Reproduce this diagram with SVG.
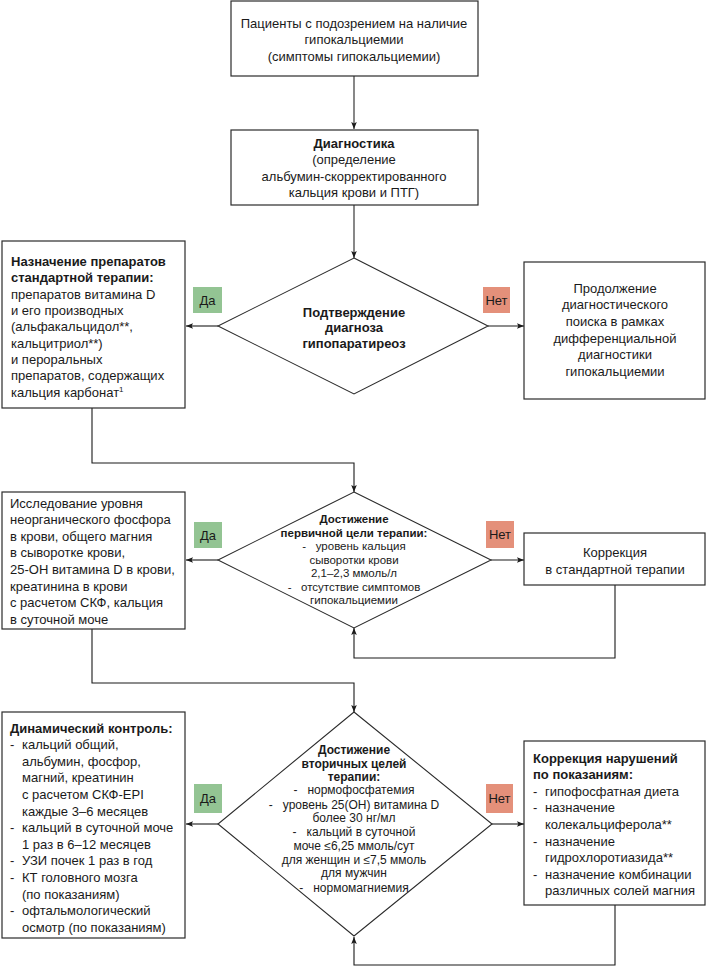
<svg xmlns="http://www.w3.org/2000/svg" width="708" height="967" viewBox="0 0 708 967">
<style>
.box{fill:#fff;stroke:#2b2b2b;stroke-width:1.2}
.dia{fill:#fff;stroke:#2b2b2b;stroke-width:1.1}
.t{font-family:"Liberation Sans",Arial,sans-serif;font-size:13px;fill:#1a1a1a}
.b{font-weight:bold}
.c{text-anchor:middle}
.d{font-family:"Liberation Sans",Arial,sans-serif;font-size:12px;fill:#1a1a1a;text-anchor:middle}
.s{font-size:11.5px}
.con{fill:none;stroke:#1a1a1a;stroke-width:1.1}
.gray{stroke:#6a6a6a;stroke-width:1.6}
.yes{fill:#93c493}
.no{fill:#e4907a}
</style>
<defs>
<marker id="ah" viewBox="0 0 10 10" refX="10" refY="5" markerWidth="7" markerHeight="7" markerUnits="userSpaceOnUse" orient="auto">
<path d="M0,1 L10,5 L0,9 L2,5 Z" fill="#1a1a1a"/>
</marker>
</defs>

<g id="connectors">
<line class="con gray" x1="354" y1="76" x2="354" y2="129" marker-end="url(#ah)"/>
<line class="con gray" x1="354" y1="205" x2="354" y2="258" marker-end="url(#ah)"/>
<line class="con" x1="218" y1="326" x2="186" y2="326" marker-end="url(#ah)"/>
<line class="con" x1="488" y1="326" x2="524" y2="326" marker-end="url(#ah)"/>
<polyline class="con" points="92,408 92,463 354,463 354,492" marker-end="url(#ah)"/>
<line class="con" x1="218" y1="560" x2="186" y2="560" marker-end="url(#ah)"/>
<line class="con" x1="491" y1="560" x2="524" y2="560" marker-end="url(#ah)"/>
<polyline class="con" points="615,585 615,658 354,658 354,628" marker-end="url(#ah)"/>
<polyline class="con" points="92,629 92,683 354,683 354,712" marker-end="url(#ah)"/>
<line class="con" x1="218" y1="824" x2="186" y2="824" marker-end="url(#ah)"/>
<line class="con" x1="492" y1="824" x2="524" y2="824" marker-end="url(#ah)"/>
<polyline class="con" points="615,905 615,965 354,965 354,937" marker-end="url(#ah)"/>
</g>

<g id="labels">
<rect class="yes" x="193" y="287" width="29" height="26"/>
<text class="t c" x="207.5" y="305">Да</text>
<rect class="no" x="483" y="287" width="27" height="26"/>
<text class="t c" x="496.5" y="305">Нет</text>
<rect class="yes" x="194" y="522" width="28" height="26"/>
<text class="t c" x="208" y="540">Да</text>
<rect class="no" x="486" y="521" width="28" height="27"/>
<text class="t c" x="500" y="539">Нет</text>
<rect class="yes" x="194" y="784" width="28" height="29"/>
<text class="t c" x="208" y="803">Да</text>
<rect class="no" x="486" y="784" width="27" height="29"/>
<text class="t c" x="499.5" y="803">Нет</text>
</g>

<g id="start">
<rect class="box" x="231" y="1" width="247" height="75"/>
<text class="t c" x="354" y="27.5">Пациенты с подозрением на наличие</text>
<text class="t c" x="354" y="44">гипокальциемии</text>
<text class="t c" x="354" y="60.5">(симптомы гипокальциемии)</text>
</g>

<g id="diagnostics">
<rect class="box" x="231" y="130" width="247" height="75"/>
<text class="t c b" x="354" y="147.5">Диагностика</text>
<text class="t c" x="354" y="164">(определение</text>
<text class="t c" x="354" y="180.5">альбумин-скорректированного</text>
<text class="t c" x="354" y="197">кальция крови и ПТГ)</text>
</g>

<g id="decision1">
<polygon class="dia" points="354,258 488,326 354,394 218,326"/>
<text class="t c b" x="354" y="316.5">Подтверждение</text>
<text class="t c b" x="354" y="332">диагноза</text>
<text class="t c b" x="354" y="347.5">гипопаратиреоз</text>
</g>

<g id="standard-therapy">
<rect class="box" x="2" y="241" width="183" height="167"/>
<text class="t b" x="11" y="265.5">Назначение препаратов</text>
<text class="t b" x="11" y="282">стандартной терапии:</text>
<text class="t" x="11" y="298.5">препаратов витамина D</text>
<text class="t" x="11" y="315">и его производных</text>
<text class="t" x="11" y="331">(альфакальцидол**,</text>
<text class="t" x="11" y="347.5">кальцитриол**)</text>
<text class="t" x="11" y="364">и пероральных</text>
<text class="t" x="11" y="380">препаратов, содержащих</text>
<text class="t" x="11" y="396.5">кальция карбонат<tspan font-size="8" dy="-5">1</tspan></text>
</g>

<g id="continue-search">
<rect class="box" x="524" y="262" width="181" height="137"/>
<text class="t c" x="615" y="292.5">Продолжение</text>
<text class="t c" x="615" y="309.2">диагностического</text>
<text class="t c" x="615" y="325.9">поиска в рамках</text>
<text class="t c" x="615" y="342.6">дифференциальной</text>
<text class="t c" x="615" y="359.3">диагностики</text>
<text class="t c" x="615" y="376">гипокальциемии</text>
</g>

<g id="decision2">
<polygon class="dia" points="354,492 491,560 354,628 218,560"/>
<text class="d s b" x="354" y="523">Достижение</text>
<text class="d s b" x="354" y="536.5">первичной цели терапии:</text>
<text class="d s" x="354" y="550" xml:space="preserve">-   уровень кальция</text>
<text class="d s" x="354" y="563.5">сыворотки крови</text>
<text class="d s" x="354" y="577">2,1–2,3 ммоль/л</text>
<text class="d s" x="354" y="590.5" xml:space="preserve">-   отсутствие симптомов</text>
<text class="d s" x="354" y="604">гипокальциемии</text>
</g>

<g id="tests">
<rect class="box" x="2" y="492" width="183" height="137"/>
<text class="t" x="10" y="507.5">Исследование уровня</text>
<text class="t" x="10" y="524.1">неорганического фосфора</text>
<text class="t" x="10" y="540.7">в крови, общего магния</text>
<text class="t" x="10" y="557.3">в сыворотке крови,</text>
<text class="t" x="10" y="573.9">25-ОН витамина D в крови,</text>
<text class="t" x="10" y="590.5">креатинина в крови</text>
<text class="t" x="10" y="607.1">с расчетом СКФ, кальция</text>
<text class="t" x="10" y="623.7">в суточной моче</text>
</g>

<g id="correction-standard">
<rect class="box" x="524" y="533" width="181" height="52"/>
<text class="t c" x="615" y="556.5">Коррекция</text>
<text class="t c" x="615" y="573.5">в стандартной терапии</text>
</g>

<g id="decision3">
<polygon class="dia" points="354,712 492,824 354,936 218,824"/>
<text class="d b" x="354" y="754">Достижение</text>
<text class="d b" x="354" y="768">вторичных целей</text>
<text class="d b" x="354" y="781">терапии:</text>
<text class="d" x="354" y="794" xml:space="preserve">-   нормофосфатемия</text>
<text class="d" x="354" y="809" xml:space="preserve">-   уровень 25(OH) витамина D</text>
<text class="d" x="354" y="822">более 30 нг/мл</text>
<text class="d" x="354" y="836" xml:space="preserve">-   кальций в суточной</text>
<text class="d" x="354" y="850">моче ≤6,25 ммоль/сут</text>
<text class="d" x="354" y="864">для женщин и ≤7,5 ммоль</text>
<text class="d" x="354" y="877">для мужчин</text>
<text class="d" x="354" y="892" xml:space="preserve">-   нормомагниемия</text>
</g>

<g id="monitoring">
<rect class="box" x="2" y="712" width="183" height="226"/>
<text class="t b" x="10" y="732.5">Динамический контроль:</text>
<text class="t" x="10" y="749.1">-</text><text class="t" x="22" y="749.1">кальций общий,</text>
<text class="t" x="22" y="765.7">альбумин, фосфор,</text>
<text class="t" x="22" y="782.3">магний, креатинин</text>
<text class="t" x="22" y="798.9">с расчетом СКФ-EPI</text>
<text class="t" x="22" y="815.5">каждые 3–6 месяцев</text>
<text class="t" x="10" y="832.1">-</text><text class="t" x="22" y="832.1">кальций в суточной моче</text>
<text class="t" x="22" y="848.7">1 раз в 6–12 месяцев</text>
<text class="t" x="10" y="865.3">-</text><text class="t" x="22" y="865.3">УЗИ почек 1 раз в год</text>
<text class="t" x="10" y="881.9">-</text><text class="t" x="22" y="881.9">КТ головного мозга</text>
<text class="t" x="22" y="898.5">(по показаниям)</text>
<text class="t" x="10" y="915.1">-</text><text class="t" x="22" y="915.1">офтальмологический</text>
<text class="t" x="22" y="931.7">осмотр (по показаниям)</text>
</g>

<g id="correction-disorders">
<rect class="box" x="524" y="741" width="181" height="164"/>
<text class="t b" x="533" y="762.5">Коррекция нарушений</text>
<text class="t b" x="533" y="779.1">по показаниям:</text>
<text class="t" x="533" y="795.7">-</text><text class="t" x="545" y="795.7">гипофосфатная диета</text>
<text class="t" x="533" y="812.3">-</text><text class="t" x="545" y="812.3">назначение</text>
<text class="t" x="545" y="828.9">колекальциферола**</text>
<text class="t" x="533" y="845.5">-</text><text class="t" x="545" y="845.5">назначение</text>
<text class="t" x="545" y="862.1">гидрохлоротиазида**</text>
<text class="t" x="533" y="878.7">-</text><text class="t" x="545" y="878.7">назначение комбинации</text>
<text class="t" x="545" y="895.3">различных солей магния</text>
</g>
</svg>
